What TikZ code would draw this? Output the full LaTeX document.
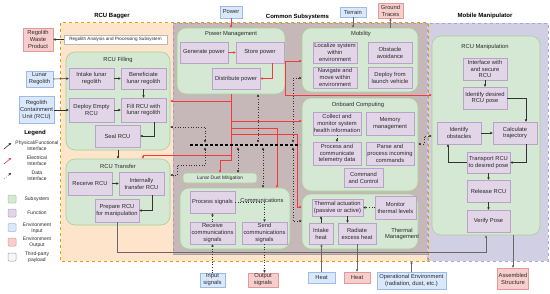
\documentclass[tikz,border=0pt]{standalone}
\usepackage{fontspec}
\setmainfont{Liberation Sans}
\usetikzlibrary{arrows.meta}
\definecolor{subF}{HTML}{D5E8D4}
\definecolor{subD}{HTML}{A7CF98}
\definecolor{fnF}{HTML}{E1D5E7}
\definecolor{fnD}{HTML}{B9A3C8}
\definecolor{inF}{HTML}{DAE8FC}
\definecolor{inD}{HTML}{9DBBE6}
\definecolor{outF}{HTML}{F8CECC}
\definecolor{outD}{HTML}{E29A98}
\definecolor{bagF}{HTML}{FDE4CB}
\definecolor{bagD}{HTML}{E0A000}
\definecolor{comF}{HTML}{C6B8B8}
\definecolor{comD}{HTML}{A79BC4}
\definecolor{mobF}{HTML}{D1CFE3}
\definecolor{mobD}{HTML}{ABA4D8}
\definecolor{elecC}{HTML}{F23A3A}
\definecolor{physC}{HTML}{6E6666}
\definecolor{arC}{HTML}{333333}
\definecolor{txtC}{HTML}{2A2A2A}
\newcommand\fnfont{\fontsize{5.8}{6.9}\selectfont}
\newcommand\lgfont{\fontsize{5}{6}\selectfont}
\newcommand\hdfont{\fontsize{6}{7}\selectfont\bfseries}
\tikzset{
  wh/.style 2 args={minimum width=#1,minimum height=#2},
  fn/.style={draw=fnD, fill=fnF, line width=0.5pt, align=center, font=\fnfont, text=txtC, inner sep=0.5pt},
  subsys/.style={draw=subD, fill=subF, line width=0.6pt, rounded corners=9pt, inner sep=0pt},
  envin/.style={draw=inD, fill=inF, line width=0.5pt, align=center, font=\fnfont, text=txtC, inner sep=0.5pt},
  envout/.style={draw=outD, fill=outF, line width=0.5pt, align=center, font=\fnfont, text=txtC, inner sep=0.5pt},
  ttl/.style={font=\fnfont, text=txtC, inner sep=0pt, align=center},
  hd/.style={font=\hdfont, inner sep=0pt},
  lg/.style={font=\lgfont, text=txtC, inner sep=0pt, align=center},
  tip/.tip={Triangle[length=2.3pt,width=2.3pt]},
  ar/.style={draw=arC, line width=0.6pt, -tip},
  phys/.style={draw=physC, line width=0.9pt, -tip},
  elec/.style={draw=elecC, line width=0.9pt, -tip},
  data/.style={draw=arC, line width=0.6pt, dotted, -tip},
  data2/.style={draw=arC, line width=0.6pt, dotted, tip-tip},
  lgsq/.style={line width=0.5pt, minimum width=8, minimum height=8, inner sep=0pt, rounded corners=1pt},
}
\begin{document}
\begin{tikzpicture}[x=1pt,y=-1pt]
\useasboundingbox (0,0) rectangle (550,293);
\fill[white] (0,0) rectangle (550,293);

% containers
\node[fill=bagF, wh={367}{238}, inner sep=0pt] (bagger) at (244.5,142) {};
\node[draw=comD, dashed, line width=0.7pt, fill=comF, wh={255}{231}, inner sep=0pt] (common) at (300.5,138.5) {};
\node[draw=mobD, dashed, line width=0.7pt, fill=mobF, wh={121}{238}, inner sep=0pt] (mobile) at (487.5,142) {};
\draw[bagD, dashed, line width=0.8pt] (bagger.north west) rectangle (bagger.south east);
\draw[physC!60, line width=1pt] (common.south west) -- (common.south east);

\node[hd] (hbag) at (112,16.5) {RCU Bagger};
\node[hd] (hcom) at (297.5,16.5) {Common Subsystems};
\node[hd] (hmob) at (485,15.5) {Mobile Manipulator};

% left column
\node[envout, wh={30}{23}] (waste) at (38,39.5) {Regolith\\Waste\\Product};
\node[envin, wh={27}{16}] (lreg) at (39.5,79) {Lunar\\Regolith};
\node[envin, wh={35}{27}] (rcuin) at (36.5,110) {Regolith\\Containment\\Unit (RCU)};

% legend
\node[font=\hdfont, inner sep=0pt] (lgtitle) at (35,133) {Legend};
\coordinate (l1a) at (4,149); \coordinate (l1b) at (11,143);
\coordinate (l2a) at (4,164); \coordinate (l2b) at (11,158);
\coordinate (l3a) at (4,179); \coordinate (l3b) at (11,173);
\draw[ar] (l1a) -- (l1b);
\draw[draw=elecC, line width=0.6pt, -tip] (l2a) -- (l2b);
\draw[data] (l3a) -- (l3b);
\node[lg] (lt1) at (37,146) {Physical/Functional\\Interface};
\node[lg] (lt2) at (37,161) {Electrical\\Interface};
\node[lg] (lt3) at (37,176) {Data\\Interface};
\node[lgsq, draw=subD, fill=subF] (sq1) at (12,199) {};
\node[lgsq, draw=fnD, fill=fnF] (sq2) at (12,213) {};
\node[lgsq, draw=inD, fill=inF] (sq3) at (12,227.5) {};
\node[lgsq, draw=outD, fill=outF] (sq4) at (12,242) {};
\node[lgsq, draw=gray!70, fill=gray!6] (sq5) at (12,257) {};
\node[lg] (st1) at (37,199) {Subsystem};
\node[lg] (st2) at (37,213) {Function};
\node[lg] (st3) at (37,228) {Environment\\Input};
\node[lg] (st4) at (37,242) {Environment\\Output};
\node[lg] (st5) at (37,257) {Third-party\\payload};

% RCU bagger
\node[draw=gray!55, fill=white, line width=0.5pt, wh={103}{9}, inner sep=0pt, font=\fontsize{4.6}{5.5}\selectfont, text=txtC] (analysis) at (115.5,39.5) {Regolith Analysis and Processing Subsystem};
\node[subsys, wh={104}{98}] (filling) at (118,101) {};
\node[ttl] (tfill) at (118,60) {RCU Filling};
\node[fn, wh={45}{21}] (intake) at (91.5,78.5) {Intake lunar\\regolith};
\node[fn, wh={45}{21}] (benef) at (143.5,78.5) {Beneficiate\\lunar regolith};
\node[fn, wh={45}{24}] (deploy) at (91.5,110) {Deploy Empty\\RCU};
\node[fn, wh={45}{24}] (fill) at (143.5,110) {Fill RCU with\\lunar regolith};
\node[fn, wh={45}{22}] (seal) at (117.5,136) {Seal RCU};

\node[subsys, wh={104}{66}] (transfer) at (118,192) {};
\node[ttl] (ttrans) at (118,166) {RCU Transfer};
\node[fn, wh={44}{23}] (receive) at (90,183.5) {Receive RCU};
\node[fn, wh={45}{23}] (internal) at (141.5,183.5) {Internally\\transfer RCU};
\node[fn, wh={44}{23}] (prepare) at (117,210.5) {Prepare RCU\\for manipulation};

% Power management
\node[envin, wh={22}{12}] (power) at (231,12) {Power};
\node[subsys, wh={108}{66}] (powermgmt) at (231,61) {};
\node[ttl] (tpow) at (231,34) {Power Management};
\node[fn, wh={48}{21}] (gen) at (204,52.5) {Generate power};
\node[fn, wh={48}{21}] (store) at (260,52.5) {Store power};
\node[fn, wh={48}{21}] (dist) at (236,78.5) {Distribute power};

% Mobility
\node[envin, wh={26}{10}] (terrain) at (353,12) {Terrain};
\node[envout, wh={25}{15}] (ground) at (390.5,10.5) {Ground\\Traces};
\node[subsys, wh={116}{64}] (mobility) at (360,60) {};
\node[ttl] (tmob) at (361,34) {Mobility};
\node[fn, wh={44}{21}] (localize) at (335,52.5) {Localize system\\within\\environment};
\node[fn, wh={44}{21}] (obstacle) at (390,52.5) {Obstacle\\avoidance};
\node[fn, wh={44}{21}] (navigate) at (335,77.5) {Navigate and\\move within\\environment};
\node[fn, wh={44}{21}] (deploylv) at (390,77.5) {Deploy from\\launch vehicle};

% Onboard computing
\node[subsys, wh={116}{93}] (onboard) at (360,144.5) {};
\node[ttl] (tonb) at (358,105) {Onboard Computing};
\node[fn, wh={48}{23}] (collect) at (337,123.5) {Collect and\\monitor system\\health information};
\node[fn, wh={48}{23}] (memory) at (390,123.5) {Memory\\management};
\node[fn, wh={48}{23}] (proctel) at (337,153.5) {Process and\\communicate\\telemetry data};
\node[fn, wh={48}{23}] (parse) at (390,153.5) {Parse and\\process incoming\\commands};
\node[fn, wh={39}{19}] (cmd) at (363.5,177.5) {Command\\and Control};

% Thermal management
\node[subsys, wh={116}{55}] (thermal) at (360,221.5) {};
\node[ttl] (tthe) at (402,234) {Thermal\\Management};
\node[fn, wh={51}{17}] (thermact) at (337.5,207.5) {Thermal actuation\\(passive or active)};
\node[fn, wh={41}{23}] (monitor) at (395.5,207.5) {Monitor\\thermal levels};
\node[fn, wh={24}{21}] (intakeheat) at (321,233.5) {Intake\\heat};
\node[fn, wh={38}{21}] (radiate) at (357,233.5) {Radiate\\excess heat};
\node[envin, wh={27}{11}] (heatin) at (321.5,277.5) {Heat};
\node[envout, wh={26}{11}] (heatout) at (357,277.5) {Heat};
\node[envin, wh={69}{17}] (openv) at (411.5,280.5) {Operational Environment\\(radiation, dust, etc.)};

% Dust & Communications
\node[subsys, rounded corners=3pt, wh={74}{10}, font=\fontsize{4.9}{6}\selectfont, text=txtC] (dust) at (220,178) {Lunar Dust Mitigation};
\node[subsys, wh={110}{61}] (comm) at (235,218.5) {};
\node[ttl] (tcom) at (262,200) {Communications};
\node[fn, wh={45}{22}] (procsig) at (212.5,202) {Process signals};
\node[fn, wh={45}{22}] (recv) at (212.5,233) {Receive\\communications\\signals};
\node[fn, wh={45}{22}] (send) at (264.5,233) {Send\\communications\\signals};
\node[envin, wh={25}{14}] (insig) at (212.5,280) {Input\\signals};
\node[envout, wh={30}{14}] (outsig) at (263,280) {Output\\signals};

% Mobile manipulator
\node[subsys, wh={108}{199}] (rcumanip) at (486,135.5) {};
\node[ttl] (tman) at (485,47) {RCU Manipulation};
\node[fn, wh={44}{22}] (iface) at (485,69) {Interface with\\and secure\\RCU};
\node[fn, wh={44}{22}] (idpose) at (485,98) {Identify desired\\RCU pose};
\node[fn, wh={44}{22}] (idobs) at (459,133) {Identify\\obstacles};
\node[fn, wh={44}{22}] (calc) at (515,133) {Calculate\\trajectory};
\node[fn, wh={43}{21}] (transport) at (488.5,162.5) {Transport RCU\\to desired pose};
\node[fn, wh={43}{22}] (release) at (488.5,191) {Release RCU};
\node[fn, wh={43}{22}] (verify) at (488.5,221) {Verify Pose};
\node[envout, wh={31}{21}] (assembled) at (513,278.5) {Assembled\\Structure};

% ---------- connectors ----------
% bagger
\draw[ar] (analysis.west) -- (waste.east);
\draw[ar] (lreg.east) -- (intake.west);
\draw[ar] (intake.east) -- (benef.west);
\draw[ar] (benef.south) -- (fill.north);
\draw[ar] (rcuin.east) -- (deploy.west);
\draw[ar] (deploy.east) -- (fill.west);
\draw[ar] ([xshift=11pt]fill.south) |- (seal.east);
\draw[ar] (filling.south) -- (transfer.north);
\draw[ar] (receive.east) -- (internal.west);
\draw[ar] ([xshift=11pt]internal.south) |- (prepare.east);
\coordinate (ybot) at (0,252);
\draw[phys] (prepare.south) |- (rcumanip.south |- ybot) -- (rcumanip.south);

% power
\draw[elec] (power.south) -- (powermgmt.north);
\draw[elec] (gen.east) -- (store.west);
\draw[elec] ([xshift=12pt]store.south) |- (dist.east);
\draw[elec] (powermgmt.south) -- (231,160) -| (dust.north);
\draw[elec] (231,101) -- (filling.east |- 0,101);
\draw[elec] (231,121) -- (onboard.west |- 0,121);
\draw[elec] (231,128) -| ([xshift=42pt]comm.north);
\draw[elec] (231,134) -- (297,134) |- (thermal.west |- 0,207);
\draw[elec] (231,155) -| ([xshift=25pt]transfer.north);
\draw[elec] (powermgmt.east |- 0,61) -- (mobility.west |- 0,61);
\draw[elec] (285.5,61) |- (rcumanip.west |- 0,95);

% data bus
\coordinate (busL) at (190,145);
\coordinate (busR) at (300,145);
\draw[black, line width=1.1pt, dash pattern=on 3pt off 2pt] (busL) -- (busR);
\draw[data2] (filling.east |- 0,127) -| (205,142.5);
\draw[data2] (205,147.5) |- (177,165) |- (transfer.east |- 0,175);
\draw[data2] ([xshift=27pt]powermgmt.south) -- (258,142.5);
\draw[data2] (238,147.5) -- ([xshift=18pt]dust.north);
\draw[data2] (263,147.5) -- ([xshift=28pt]comm.north);
\draw[data2] (293,142.5) |- (mobility.west |- 0,78);
\draw[data2] (293,147.5) |- (thermal.west |- 0,221);
\draw[data2] (onboard.east |- 0,144) -- (424,144) -- (424,136) -- (rcumanip.west |- 0,136);

% mobility
\draw[phys] (terrain.south) -- (terrain.south |- mobility.north);
\draw[phys] (ground.south |- mobility.north) -- (ground.south);

% onboard
\draw[data] (collect.south) -- (proctel.north);

% thermal
\draw[data] (monitor.west) -- (thermact.east);
\draw[ar] (intakeheat.north) -- (intakeheat.north |- thermact.south);
\draw[ar] ([xshift=10pt]thermact.south) -- ([xshift=10pt]thermact.south |- radiate.north);
\draw[phys] (heatin.north) -- (heatin.north |- intakeheat.south);
\draw[phys] (radiate.south) -- (heatout.north);
\draw[phys] (openv.north) -- (openv.north |- bagger.south);

% communications
\draw[data] (recv.north) -- (procsig.south);
\draw[data] (procsig.east) -| (send.north);
\draw[data] (insig.north) -- (insig.north |- recv.south);
\draw[data] (send.south) -- (send.south |- outsig.north);

% manipulation
\draw[ar] (iface.south) -- (idpose.north);
\draw[ar] (idpose.east) -| ([xshift=11pt]calc.north);
\draw[ar] (idobs.east) -- (calc.west);
\draw[ar] ([xshift=11pt]calc.south) |- (transport.east);
\draw[ar] (transport.west) -| ([xshift=-11pt]idobs.south);
\draw[ar] (transport.south) -- (release.north);
\draw[ar] (release.south) -- (verify.north);
\draw[phys] (assembled.north |- rcumanip.south) -- (assembled.north);
\end{tikzpicture}
\end{document}
